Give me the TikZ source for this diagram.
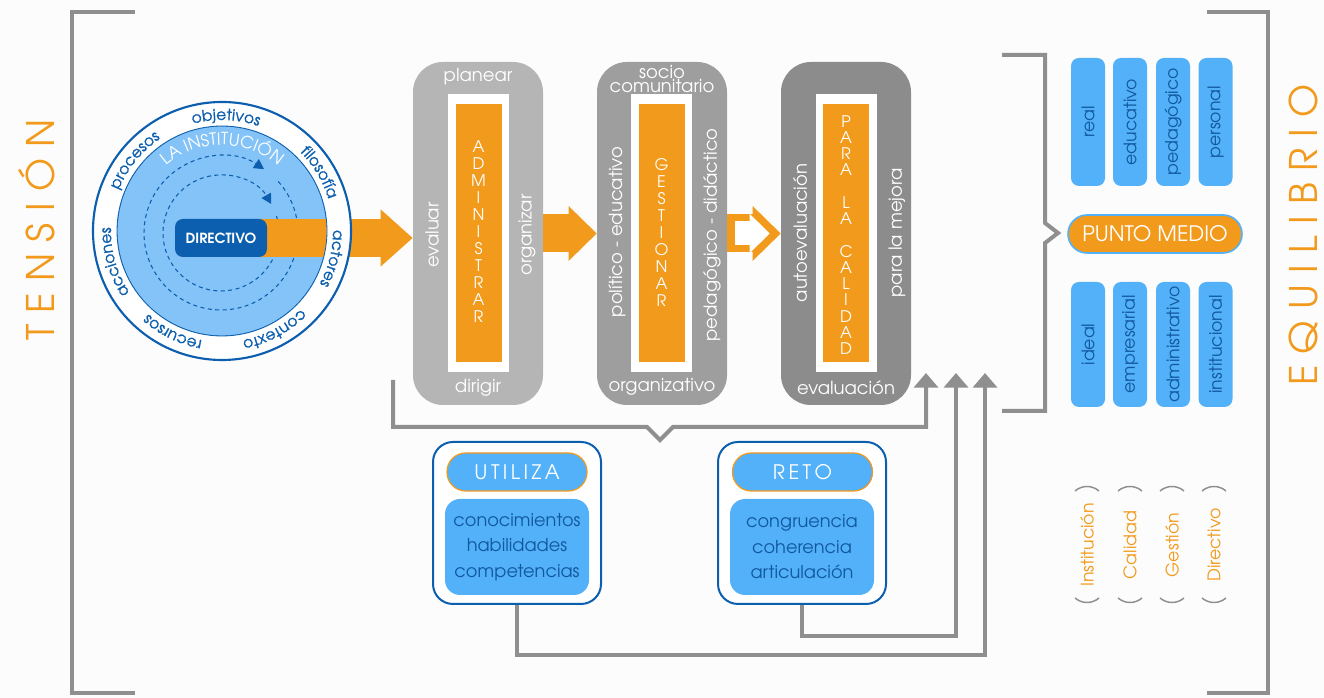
\documentclass[tikz,border=0pt]{standalone}
\usepackage{fontspec}
\setmainfont{texgyreadventor}[Extension=.otf, UprightFont=*-regular, BoldFont=*-bold, ItalicFont=*-italic, BoldItalicFont=*-bolditalic]
\newfontfamily\ringface{texgyreadventor}[Extension=.otf, UprightFont=*-regular, FakeBold=1.1]
\usetikzlibrary{arrows.meta,calc,decorations.text}

\definecolor{orng}{HTML}{F29A1B}
\definecolor{sky}{HTML}{52B1F8}
\definecolor{paleblue}{HTML}{84C3F8}
\definecolor{navy}{HTML}{0C5EAE}
\definecolor{inkblue}{HTML}{11589E}
\definecolor{greyA}{HTML}{B5B5B5}
\definecolor{greyB}{HTML}{9E9E9E}
\definecolor{greyC}{HTML}{8C8C8C}
\definecolor{rule}{HTML}{8F8F8F}
\definecolor{paper}{HTML}{FCFCFC}

\newcommand\fsz[2]{\fontsize{#1}{#2}\selectfont}
\newcommand\lsp{\kern2.6pt}
\newcommand\wsp{\kern8.5pt}
\newcommand\ringfont{\color{navy}\ringface\fsz{11.6}{13}}

\pgfdeclarelayer{under}
\pgfsetlayers{under,main}

\tikzset{
  rulepen/.style={draw=rule, line width=3pt},
  framepen/.style={draw=rule, line width=3.5pt},
  uptip/.style={-{Triangle[length=11pt,width=18pt]}},
  dashring/.style={navy, line width=0.8pt, dash pattern=on 3pt off 2.6pt, -{Triangle[length=7.5pt,width=8pt]}},
  column/.style={rounded corners=22.5pt, minimum width=97.5pt, minimum height=257.25pt, inner sep=0pt},
  whitewell/.style={fill=white, minimum width=45.75pt, minimum height=208.5pt, inner sep=0pt},
  orangecore/.style={fill=orng, minimum width=34.5pt, minimum height=193.5pt, inner sep=0pt},
  boxword/.style={text=white, font=\fsz{13.5}{13}, inner sep=0pt},
  sideword/.style={boxword, rotate=90},
  letterstack/.style={text=white, font=\fsz{12}{12.8}, align=center, inner sep=0pt},
  fatarrow/.style={draw=orng, line width=28.5pt, -{Triangle[length=21pt,width=39.75pt]}},
  tag/.style={rotate=90, fill=sky, rounded corners=6pt, minimum height=25.5pt, inner sep=0pt, text=inkblue, font=\fsz{13}{15}},
  card/.style={draw=navy, line width=1.5pt, fill=white, rounded corners=15pt, minimum width=126pt, minimum height=121.5pt, inner sep=0pt},
  cardhead/.style={fill=sky, draw=orng, line width=0.9pt, rounded corners=14pt, minimum width=105pt, minimum height=28.5pt, inner sep=0pt, text=white, font=\fsz{15}{17}},
  cardbody/.style={fill=sky, rounded corners=11.25pt, minimum width=108pt, minimum height=72pt, inner sep=0pt, text=inkblue, font=\fsz{13.3}{19.1}, align=center},
  keyword/.style={rotate=90, text=orng, font=\fsz{13}{15}, inner sep=0pt},
  bracket/.style={draw=rule, line width=1.1pt},
  bigword/.style={rotate=90, text=orng, font=\fsz{28.5}{30}, inner sep=0pt},
}

\begin{document}
\begin{tikzpicture}[x=0.75pt,y=0.75pt]
\useasboundingbox (0,0) rectangle (1324,698);

% ---------- the institution circle ----------
\coordinate (C) at (222,467);
\coordinate (D) at (221,465);
\begin{pgfonlayer}{under}
  \fill[paper] (0,0) rectangle (1324,698);
  \draw[navy, line width=0.6pt, fill=paleblue] (C) circle[radius=105];
  \draw[dashring] ($(D)+(42:77)$) arc[start angle=402, end angle=56, radius=77];
  \draw[dashring] ($(D)+(17:58)$) arc[start angle=377, end angle=30, radius=58];
\end{pgfonlayer}

\fill[white, even odd rule] (C) circle[radius=129] (C) circle[radius=105];
\draw[navy, line width=1.6pt] (C) circle[radius=129];
\draw[navy, line width=0.6pt] (C) circle[radius=105];

\path[decorate, decoration={text along path, text align=center, text={|\ringfont|objetivos}}]
  ($(C)+(148:111)$) arc[start angle=148, end angle=28, radius=111];
\path[decorate, decoration={text along path, text align=center, text={|\ringfont|filosofía}}]
  ($(C)+(91:111)$) arc[start angle=91, end angle=-29, radius=111];
\path[decorate, decoration={text along path, text align=center, text={|\ringfont|actores}}]
  ($(C)+(46:111)$) arc[start angle=46, end angle=-74, radius=111];
\path[decorate, decoration={text along path, text align=center, text={|\ringfont|contexto}}]
  ($(C)+(-2:111)$) arc[start angle=-2, end angle=-122, radius=111];
\path[decorate, decoration={text along path, text align=center, text={|\ringfont|recursos}}]
  ($(C)+(-56:111)$) arc[start angle=-56, end angle=-176, radius=111];
\path[decorate, decoration={text along path, text align=center, text={|\ringfont|acciones}}]
  ($(C)+(256:111)$) arc[start angle=256, end angle=136, radius=111];
\path[decorate, decoration={text along path, text align=center, text={|\ringfont|procesos}}]
  ($(C)+(201:111)$) arc[start angle=201, end angle=81, radius=111];

\path[decorate, decoration={text along path, text align=center, text={|\color{white}\fsz{12.5}{14}|LA INSTITUCIÓN}}]
  ($(C)+(150:86)$) arc[start angle=150, end angle=30, radius=86];

\node[fill=navy, rounded corners=6pt, minimum width=69pt, minimum height=28.5pt, inner sep=0pt,
      text=white, font=\bfseries\fsz{10.5}{12}] (dir) at (221,460) {DIRECTIVO};

% ---------- the three process columns ----------
\node[column, fill=greyA] (b1) at (478,464.5) {};
\node[whitewell] (w1) at (478.5,465) {};
\node[orangecore] (o1) at (478.5,465) {};
\node[boxword] (b1top) at (478,621) {planear};
\node[boxword] (b1bot) at (478,310) {dirigir};
\node[sideword] (b1left) at (432,463) {evaluar};
\node[sideword] (b1right) at (527,463) {organizar};
\node[letterstack] (b1word) at (478.5,466.5) {A\\D\\M\\I\\N\\I\\S\\T\\R\\A\\R};

\node[column, fill=greyB] (b2) at (662,464.5) {};
\node[whitewell] (w2) at (661.5,465) {};
\node[orangecore] (o2) at (661.5,465) {};
\node[boxword, align=center, font=\fsz{13.5}{9}] (b2top) at (662,619) {socio\\comunitario};
\node[boxword] (b2bot) at (662,311) {organizativo};
\node[sideword] (b2left) at (617,466) {político - educativo};
\node[sideword] (b2right) at (712,463) {pedagógico - didáctico};
\node[letterstack] (b2word) at (661.5,465.5) {G\\E\\S\\T\\I\\O\\N\\A\\R};

\node[column, fill=greyC] (b3) at (846,464.5) {};
\node[whitewell] (w3) at (846.5,465) {};
\node[orangecore] (o3) at (846,464.5) {};
\node[boxword] (b3bot) at (846,310) {evaluación};
\node[sideword] (b3left) at (800,465) {autoevaluación};
\node[sideword] (b3right) at (897,465) {para la mejora};
\node[letterstack, font=\fsz{12}{12.2}] (b3word) at (846,463)
  {P\\A\\R\\A\\\mbox{}\\L\\A\\\mbox{}\\C\\A\\L\\I\\D\\A\\D};

% arrows between the columns
\draw[fatarrow] (b1) -- (b2);
\draw[fatarrow] (b2) -- (b3);
\draw[draw=white, line width=18pt, -{Triangle[length=15pt,width=28.5pt]}]
  ($(b2.east)+(8,0)$) -- ($(b3.west)+(-11,0)$);

\begin{pgfonlayer}{under}
  \draw[draw=orng, line width=28.5pt, -{Triangle[length=24pt,width=41.25pt]}]
    (dir.center) -- (dir.center -| b1.west);
\end{pgfonlayer}

% ---------- cards below ----------
\node[card] (util) at (517,175) {};
\node[cardhead] (utilh) at (517,226) {U\lsp T\lsp I\lsp L\lsp I\lsp Z\lsp A};
\node[cardbody] (utilb) at (517,151) {conocimientos\\habilidades\\competencias};

\node[card] (reto) at (802,175) {};
\node[cardhead] (retoh) at (802.5,226) {R\lsp E\lsp T\lsp O};
\node[cardbody] (retob) at (802,151) {congruencia\\coherencia\\articulación};

% ---------- feedback lines ----------
\coordinate (up1) at (926,325);
\coordinate (up2) at (956,325);
\coordinate (up3) at (985,325);
\coordinate (braceL) at (393,318);
\draw[rulepen, uptip] (braceL) -- (393,271) -- (647,271) -- (660,258) -- (673,271) -| (up1);
\draw[rulepen, uptip] (reto.south) -- ++(0,-31) -| (up2);
\draw[rulepen, uptip] (util.south) -- ++(0,-50) -| (up3);

% ---------- right side ----------
\draw[rulepen] (1002,643) -- (1045,643) -- (1045,475) -- (1058,465) -- (1045,455) -- (1045,287) -- (1002,287);

\foreach \x/\w [count=\i] in {1088/real, 1130/educativo, 1173/pedagógico, 1215.5/personal}
  \node[tag, minimum width=96pt] (hi\i) at (\x,576) {\w};
\foreach \x/\w [count=\i] in {1088/ideal, 1130/empresarial, 1173/administrativo, 1215.5/institucional}
  \node[tag, minimum width=93.75pt] (lo\i) at (\x,353.5) {\w};

\node[fill=orng, draw=sky, line width=1.2pt, rounded corners=14.25pt, minimum width=130.5pt,
      minimum height=28.5pt, inner sep=0pt, text=white, font=\fsz{16}{18}] (pm) at (1155,464) {PUNTO MEDIO};

\foreach \x/\w [count=\i] in {1087/Institución, 1130/Calidad, 1172/Gestión, 1214/Directivo} {
  \node[keyword] (kw\i) at (\x,153) {\w};
  \draw[bracket] (\x-12,207) .. controls (\x-5,213) and (\x+5,213) .. (\x+12,207);
  \draw[bracket] (\x-12,100) .. controls (\x-5,94) and (\x+5,94) .. (\x+12,100);
}

% ---------- outer frame and side titles ----------
\draw[framepen] (135,686) -- (72,686) -- (72,5) -- (135,5);
\draw[framepen] (1207,686) -- (1268,686) -- (1268,5) -- (1207,5);
\node[bigword] (tension) at (37,468) {T\wsp E\wsp N\wsp S\wsp I\wsp Ó\wsp N};
\node[bigword] (equilibrio) at (1303,463) {E\wsp Q\wsp U\wsp I\wsp L\wsp I\wsp B\wsp R\wsp I\wsp O};

\end{tikzpicture}
\end{document}
